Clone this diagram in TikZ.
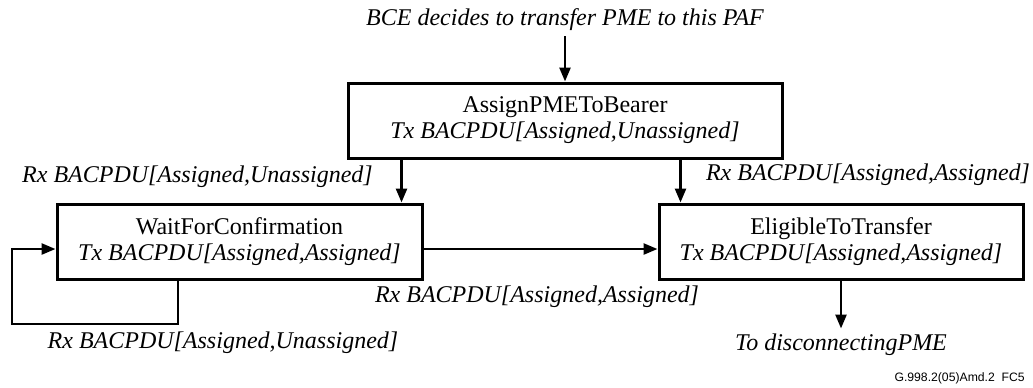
\documentclass[tikz,border=0pt]{standalone}
\usepackage{fontspec}
\setmainfont{Liberation Serif}
\newfontfamily\idfont{Liberation Sans}
\usetikzlibrary{arrows.meta, shapes}
\usetikzlibrary{positioning}

\begin{document}
\begin{tikzpicture}[x=0.5pt,y=-0.5pt,->,>={Triangle[length=7pt,width=5.5pt]},line width=1.3pt,
  state node/.style={rectangle,draw,line width=1.5pt,align=center,minimum height=37.5pt,inner sep=0pt,font=\fontsize{12}{13}\selectfont},
  label node/.style={inner sep=2pt,font=\fontsize{12}{13}\selectfont\itshape}]
  \useasboundingbox (0,0) rectangle (1033,387);
  % Estados
  \node[label node] (bce) at (565,20) {BCE decides to transfer PME to this PAF};
  \node[state node, minimum width=217pt] (assign) at (565,120.5) {AssignPMEToBearer\\ \textit{Tx BACPDU[Assigned,Unassigned]}};
  \node[state node, minimum width=182.5pt] (wait) at (239.5,241.5) {WaitForConfirmation\\ \textit{Tx BACPDU[Assigned,Assigned]}};
  \node[state node, minimum width=182pt] (elig) at (841,241.5) {EligibleToTransfer\\ \textit{Tx BACPDU[Assigned,Assigned]}};
  \node[label node] (todisc) [below=24pt of elig] {To disconnectingPME};

  % Etiquetas de las transiciones
  \node[label node] (rxunas) at (197.5,177) {Rx BACPDU[Assigned,Unassigned]};
  \node[label node] (rxas) at (868,175) {Rx BACPDU[Assigned,Assigned]};
  \node[label node] (rxmid) at (537,297) {Rx BACPDU[Assigned,Assigned]};
  \node[label node] (rxloop) at (223,343) {Rx BACPDU[Assigned,Unassigned]};
  \node[anchor=east,inner sep=0pt,font=\idfont\fontsize{6.1}{7}\selectfont] (figid) at (1026,378) {G.998.2(05)Amd.2\ \ FC5};

  % Transiciones
  \coordinate (w1) at ([xshift=-11pt]wait.north east);
  \coordinate (e1) at ([xshift=11.5pt]elig.north west);
  \coordinate (w2) at ([yshift=-3.75pt]wait.east);
  \coordinate (w3) at ([yshift=-3.75pt]wait.west);
  \coordinate (w4) at ([xshift=-30.75pt]wait.south);
  \coordinate (loopend) at (12,324);
  \path
  (bce) edge (assign)
  (w1 |- assign.south) edge (w1)
  (e1 |- assign.south) edge (e1)
  (w2) edge (w2 -| elig.west)
  (elig) edge (todisc);

  % Bucle sobre WaitForConfirmation
  \draw (w4) |- (loopend) |- (w3);
\end{tikzpicture}
\end{document}
